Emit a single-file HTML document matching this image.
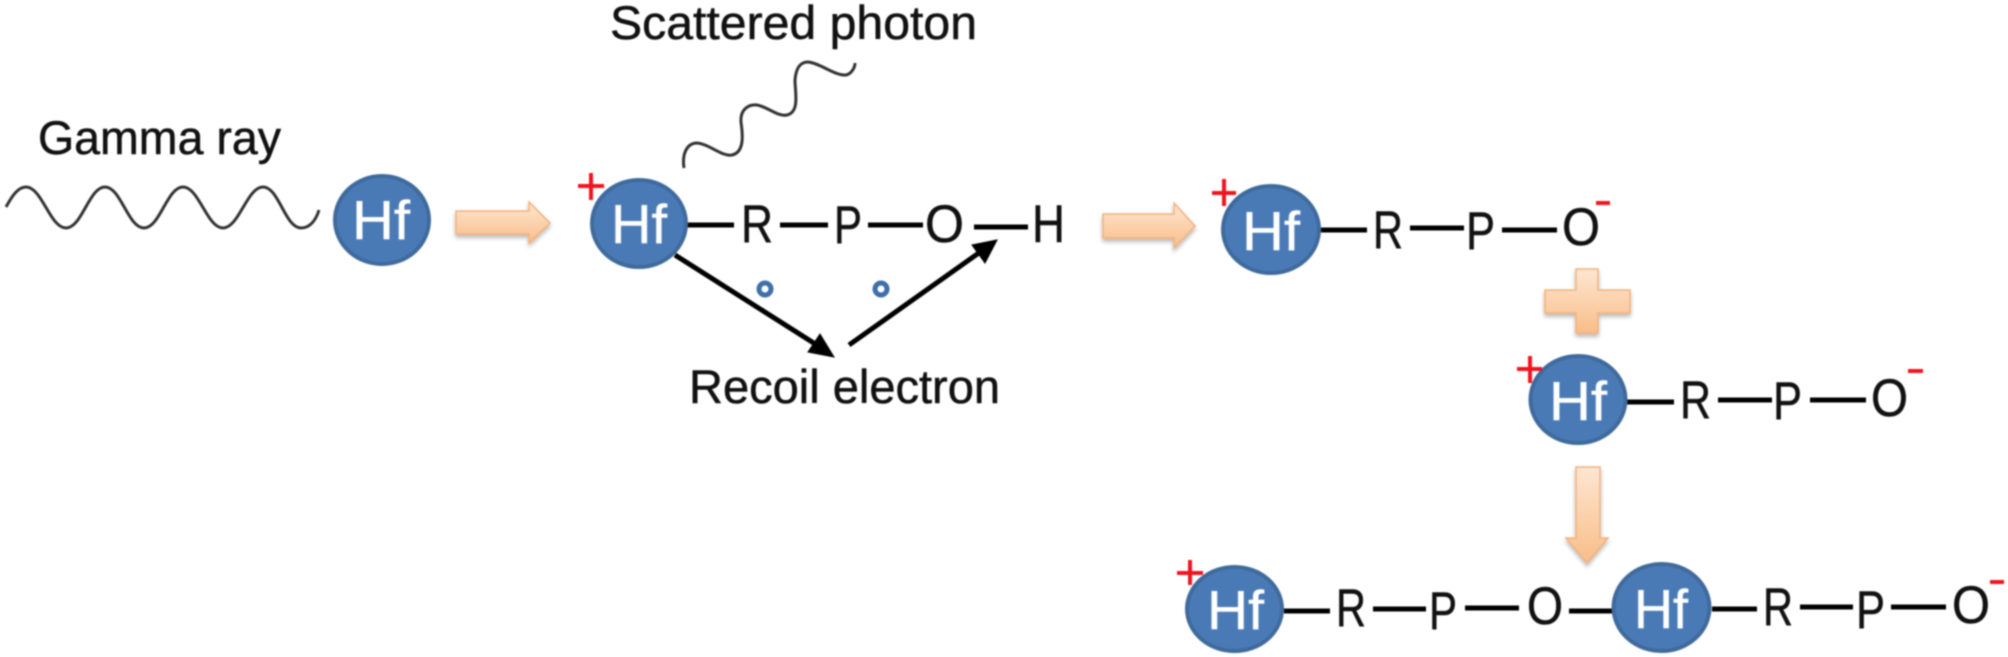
<!DOCTYPE html>
<html><head><meta charset="utf-8">
<style>
html,body{margin:0;padding:0;background:#fff;width:2008px;height:657px;overflow:hidden}
svg{display:block;filter:blur(.8px)}
text{font-family:"Liberation Sans",sans-serif;fill:#111;stroke:#111;stroke-width:.5}
.l{font-size:47px}
.a{font-size:53px}
.h{font-size:55px;fill:#fff;stroke:#fff;stroke-width:.4}
.n{fill:#4a7ab6;stroke:#3f6a9c;stroke-width:4}
.b{stroke:#000;stroke-width:5;fill:none}
.r{stroke:#f0141e;stroke-width:4;fill:none}
.m{stroke:#f0141e;stroke-width:4;fill:none}
.o{fill:url(#g);stroke:#f2b27c;stroke-width:1.5;filter:url(#s)}
.w{fill:none;stroke:#333;stroke-width:3}
</style></head><body>
<svg width="2008" height="657" viewBox="0 0 2008 657" xmlns="http://www.w3.org/2000/svg">
<defs>
<linearGradient id="g" x1="0" y1="0" x2="0" y2="1"><stop offset="0" stop-color="#fde6d2"/><stop offset="1" stop-color="#f9bd88"/></linearGradient>
<filter id="s" x="-20%" y="-20%" width="140%" height="150%"><feDropShadow dx="0" dy="3" stdDeviation="2" flood-color="#000" flood-opacity=".28"/></filter>
</defs>
<rect width="2008" height="657" fill="#fff"/>

<text class="l" x="38" y="154" textLength="243" lengthAdjust="spacingAndGlyphs">Gamma ray</text>
<text class="l" x="610" y="39" textLength="367" lengthAdjust="spacingAndGlyphs">Scattered photon</text>
<text class="l" x="689" y="403" textLength="311" lengthAdjust="spacingAndGlyphs">Recoil electron</text>

<path class="w" d="M6 207 C12 196 18 187 26 187 C42 187 50 228 66 228 C82 228 89 187 105 187 C121 187 128 228 144 228 C160 228 167 187 183 187 C199 187 207 228 223 228 C239 228 247 187 263 187 C279 187 285 228 301 228 C310 228 316 220 319 210"/>
<path class="w" d="M684 168 C682 155 686 144 696 143 C708 143 722 157 732 155 C746 152 742 130 741 122 C740 110 748 104 757 105 C768 107 778 117 787 115 C800 112 795 92 795 80 C796 68 800 62 808 62 C820 63 835 76 846 75 C851 74 855 68 855 63"/>

<!-- block arrows -->
<path class="o" d="M456 211 H529 V202 L550 223 L529 243 V234 H456 Z"/>
<path class="o" d="M1103 214 H1174 V203 L1195 226 L1174 248 V238 H1103 Z"/>
<path class="o" d="M1545 290 H1576 V269 H1598 V290 H1630 V313 H1598 V333 H1576 V313 H1545 Z"/>
<path class="o" d="M1576 467 H1600 V538 H1608 L1587 563 L1566 538 H1576 Z"/>

<!-- bonds row 1 -->
<path class="b" d="M687 225H734M780 225H828M868 225H923M974 227H1028"/>
<!-- arrows -->
<path class="b" d="M675 255L820 347"/>
<path d="M834 357L808 352L820 334Z" fill="#000" stroke="#000" stroke-width="1"/>
<path class="b" d="M849 345L983 250"/>
<path d="M997 240L985 263L972 245Z" fill="#000" stroke="#000" stroke-width="1"/>
<circle cx="765" cy="289" r="6" fill="#fff" stroke="#3f6fa8" stroke-width="5"/>
<circle cx="881" cy="289" r="6" fill="#fff" stroke="#3f6fa8" stroke-width="5"/>

<!-- bonds others -->
<path class="b" d="M1321 230H1367M1410 228H1464M1502 230H1557"/>
<path class="b" d="M1627 402H1674M1718 400H1772M1810 400H1866"/>
<path class="b" d="M1284 611H1330M1373 609H1426M1465 608H1519M1569 611H1612M1712 609H1757M1800 607H1853M1891 607H1946"/>

<!-- nodes -->
<ellipse class="n" cx="382" cy="220" rx="47" ry="44"/>
<ellipse class="n" cx="639" cy="223.500" rx="47" ry="43.500"/>
<ellipse class="n" cx="1271" cy="229.500" rx="48" ry="43.500"/>
<ellipse class="n" cx="1578" cy="399.500" rx="47.500" ry="43.500"/>
<ellipse class="n" cx="1234.500" cy="609" rx="47.500" ry="42"/>
<ellipse class="n" cx="1661.500" cy="607.500" rx="48" ry="43.500"/>

<text class="h" x="352" y="239" textLength="58" lengthAdjust="spacingAndGlyphs">Hf</text>
<text class="h" x="611" y="243" textLength="56" lengthAdjust="spacingAndGlyphs">Hf</text>
<text class="h" x="1242" y="250" textLength="58" lengthAdjust="spacingAndGlyphs">Hf</text>
<text class="h" x="1549" y="420" textLength="58" lengthAdjust="spacingAndGlyphs">Hf</text>
<text class="h" x="1207" y="629" textLength="57" lengthAdjust="spacingAndGlyphs">Hf</text>
<text class="h" x="1634" y="628" textLength="54" lengthAdjust="spacingAndGlyphs">Hf</text>

<!-- charges -->
<path class="r" d="M578 186H604M591 173V200"/>
<path class="r" d="M1212 193H1236M1224 179V206"/>
<path class="r" d="M1517 369H1542M1530 356V383"/>
<path class="r" d="M1177 573H1203M1190 560V585"/>
<path class="m" d="M1596 203H1610M1908 371H1923M1990 582H2004"/>

<!-- atoms -->
<g>
<text class="a" x="741" y="242" textLength="32" lengthAdjust="spacingAndGlyphs">R</text>
<text class="a" x="834" y="243" textLength="28" lengthAdjust="spacingAndGlyphs">P</text>
<text class="a" x="925" y="242" textLength="39" lengthAdjust="spacingAndGlyphs">O</text>
<text class="a" x="1032" y="242" textLength="33" lengthAdjust="spacingAndGlyphs">H</text>

<text class="a" x="1373" y="248" textLength="30" lengthAdjust="spacingAndGlyphs">R</text>
<text class="a" x="1466" y="249" textLength="29" lengthAdjust="spacingAndGlyphs">P</text>
<text class="a" x="1562" y="245" textLength="38" lengthAdjust="spacingAndGlyphs">O</text>

<text class="a" x="1680" y="418" textLength="31" lengthAdjust="spacingAndGlyphs">R</text>
<text class="a" x="1773" y="419" textLength="29" lengthAdjust="spacingAndGlyphs">P</text>
<text class="a" x="1871" y="416" textLength="37" lengthAdjust="spacingAndGlyphs">O</text>

<text class="a" x="1336" y="626" textLength="30" lengthAdjust="spacingAndGlyphs">R</text>
<text class="a" x="1429" y="629" textLength="28" lengthAdjust="spacingAndGlyphs">P</text>
<text class="a" x="1527" y="624" textLength="36" lengthAdjust="spacingAndGlyphs">O</text>
<text class="a" x="1763" y="625" textLength="30" lengthAdjust="spacingAndGlyphs">R</text>
<text class="a" x="1856" y="628" textLength="29" lengthAdjust="spacingAndGlyphs">P</text>
<text class="a" x="1952" y="623" textLength="38" lengthAdjust="spacingAndGlyphs">O</text>
</g>
</svg>
</body></html>
